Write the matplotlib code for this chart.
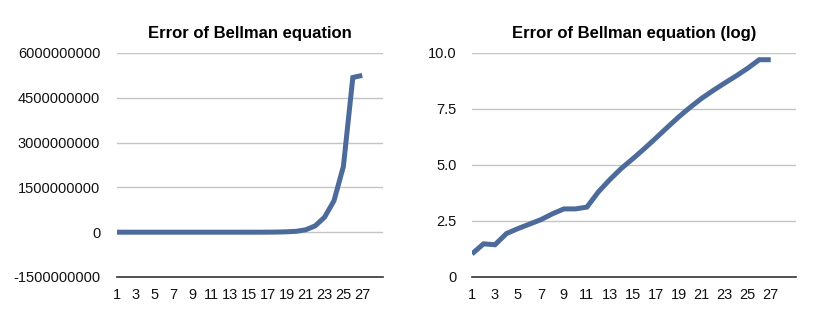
import numpy as np
import matplotlib
matplotlib.use('Agg')
import matplotlib.pyplot as plt

###################################
#     Data                      ###
###################################

iterations = list(range(1, 28))

# error of the Bellman equation (raw)
bellman_error = [11, 30, 28, 87, 145, 229, 363, 661, 1096, 1096, 1318, 6310,
                 22400, 70800, 190000, 537000, 1.58e6, 4.8e6, 1.4e7, 3.0e7,
                 8.0e7, 2.1e8, 5.0e8, 1.05e9, 2.2e9, 5.18e9, 5.25e9]

# error of the Bellman equation (log10)
bellman_log = [1.03, 1.48, 1.44, 1.94, 2.16, 2.36, 2.56, 2.82, 3.04, 3.04,
               3.12, 3.8, 4.35, 4.85, 5.28, 5.73, 6.2, 6.68, 7.15, 7.58,
               7.98, 8.33, 8.66, 8.98, 9.32, 9.7, 9.7]

left_yticks = [-1500000000, 0, 1500000000, 3000000000, 4500000000, 6000000000]
right_yticks = [0, 2.5, 5.0, 7.5, 10.0]
right_ylabels = ['0', '2.5', '5.0', '7.5', '10.0']
xtick_pos = list(range(1, 28, 2))

###################################
#     Plot                      ###
###################################

plt.rcParams['font.family'] = ['Liberation Sans', 'DejaVu Sans']

line_color = '#4c6b9b'
grid_color = '#c4c4c4'

fig = plt.figure(figsize=(8.18, 3.19), dpi=100)
ax1 = fig.add_axes([117 / 818, 1 - 277 / 319, 266 / 818, 224 / 319])
ax2 = fig.add_axes([472 / 818, 1 - 277 / 319, 324 / 818, 224 / 319])


def style(ax, title):
    for s in ['top', 'right', 'left']:
        ax.spines[s].set_visible(False)
    ax.spines['bottom'].set_color('#333333')
    ax.spines['bottom'].set_linewidth(1.2)
    ax.grid(axis='y', color=grid_color, linewidth=1.0)
    ax.set_axisbelow(True)
    ax.set_xlim(1, 29.2)
    ax.set_xticks(xtick_pos)
    ax.set_xticklabels([str(i) for i in xtick_pos])
    ax.tick_params(axis='both', length=0, labelsize=10.5, colors='#111111')
    ax.tick_params(axis='x', pad=8)
    ax.tick_params(axis='y', pad=12)
    ax.set_title(title, fontsize=12, fontweight='bold', pad=11)


ax1.plot(iterations, bellman_error, color=line_color, linewidth=3.6,
         solid_joinstyle='miter', solid_capstyle='butt')
style(ax1, 'Error of Bellman equation')
ax1.set_ylim(-1500000000, 6000000000)
ax1.set_yticks(left_yticks)
ax1.set_yticklabels([str(v) for v in left_yticks])

ax2.plot(iterations, bellman_log, color=line_color, linewidth=3.6,
         solid_joinstyle='miter', solid_capstyle='butt')
style(ax2, 'Error of Bellman equation (log)')
ax2.set_ylim(0, 10)
ax2.set_yticks(right_yticks)
ax2.set_yticklabels(right_ylabels)
ax2.tick_params(axis='y', pad=11)

plt.savefig('out.png', dpi=100)
